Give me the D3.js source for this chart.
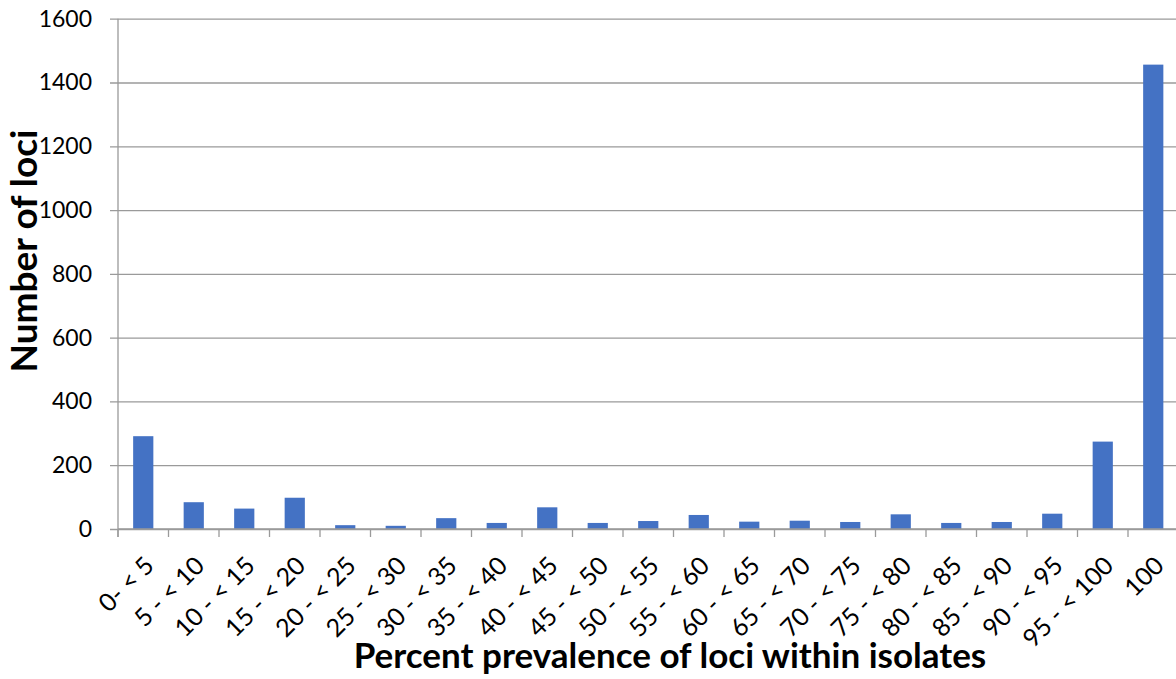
<!DOCTYPE html>
<html>
<head>
<meta charset="utf-8">
<script src="https://cdn.jsdelivr.net/npm/d3@7"></script>
<style>
  body { margin: 0; background: #fff; }
  svg text { font-family: Lato, "Open Sans", sans-serif; fill: #000; }
</style>
</head>
<body>
<svg id="chart" width="1176" height="679"></svg>
<script>
// categories and counts
const bins = ["0- < 5", "5 - < 10", "10 - < 15", "15 - < 20", "20 - < 25", "25 - < 30",
  "30 - < 35", "35 - < 40", "40 - < 45", "45 - < 50", "50 - < 55", "55 - < 60",
  "60 - < 65", "65 - < 70", "70 - < 75", "75 - < 80", "80 - < 85", "85 - < 90",
  "90 - < 95", "95 - < 100", "100"]
const loci = [291, 84, 64, 98, 12, 10, 34, 19, 68, 19, 25, 44, 23, 26, 22, 46, 19, 22, 48, 274, 1456]
const yTicks = [0, 200, 400, 600, 800, 1000, 1200, 1400, 1600]

const data = bins.map((b, i) => ({bin: b, n: loci[i]}))

// set the dimensions and margins of the graph
var margin = {top: 18.7, right: -2.5, bottom: 150, left: 118},
  width = 1176 - margin.left - margin.right,
  height = 679 - margin.top - margin.bottom;

var svg = d3.select("#chart")
  .append("g")
  .attr("transform", "translate(" + margin.left + "," + margin.top + ")");

var x = d3.scaleBand()
  .domain(bins)
  .range([0, width])
  .paddingInner(0.6)
  .paddingOuter(0.3);

var xb = d3.scaleBand().domain(bins).range([0, width]); // category slots for tick marks

var y = d3.scaleLinear()
  .domain([0, 1600])
  .range([height, 0]);

// horizontal grid lines + y labels
var yAxis = svg.append("g")
  .attr("class", "yAxis")
  .call(d3.axisLeft(y).tickValues(yTicks).tickFormat(d3.format("d")).tickSize(-width - 8).tickPadding(18))
  .attr("transform", "translate(-8,0)");

yAxis.select(".domain").remove()
yAxis.selectAll(".tick line")
  .attr("stroke", "#9a9a9a")
  .attr("stroke-width", 1.3)
yAxis.selectAll(".tick text")
  .attr("font-size", "23px")
  .attr("font-family", "Lato, sans-serif")
  .attr("x", -18)

// vertical axis line
svg.append("line")
  .attr("x1", 0).attr("x2", 0)
  .attr("y1", y(1600)).attr("y2", y(0) + 8)
  .attr("stroke", "#9a9a9a")
  .attr("stroke-width", 1.3)

// bars
svg.append("g")
  .selectAll("rect")
  .data(data)
  .enter().append("rect")
  .attr("x", d => x(d.bin))
  .attr("width", x.bandwidth())
  .attr("y", d => y(d.n))
  .attr("height", d => y(0) - y(d.n))
  .attr("fill", "#4472c4")

// x axis baseline and tick marks at category boundaries
svg.append("line")
  .attr("x1", 0).attr("x2", width)
  .attr("y1", y(0)).attr("y2", y(0))
  .attr("stroke", "#9a9a9a")
  .attr("stroke-width", 1.3)

svg.append("g")
  .selectAll("line")
  .data(bins)
  .enter().append("line")
  .attr("x1", d => xb(d)).attr("x2", d => xb(d))
  .attr("y1", y(0)).attr("y2", y(0) + 8)
  .attr("stroke", "#9a9a9a")
  .attr("stroke-width", 1.3)

// rotated category labels
svg.append("g")
  .selectAll("text")
  .data(bins)
  .enter().append("text")
  .text(d => d)
  .attr("font-size", "25px")
  .attr("text-anchor", "end")
  .attr("dy", "0.35em")
  .attr("transform", d => "translate(" + (x(d) + x.bandwidth() / 2 + 6) + "," + (y(0) + 32) + ") rotate(-45)")

// axis titles
d3.select("#chart").append("text")
  .text("Percent prevalence of loci within isolates")
  .attr("x", 670)
  .attr("y", 668)
  .attr("text-anchor", "middle")
  .attr("font-weight", "bold")
  .attr("font-size", "35px")

d3.select("#chart").append("text")
  .text("Number of loci")
  .attr("text-anchor", "middle")
  .attr("font-weight", "bold")
  .attr("font-size", "37px")
  .attr("transform", "translate(37,251) rotate(-90)")
</script>
</body>
</html>
